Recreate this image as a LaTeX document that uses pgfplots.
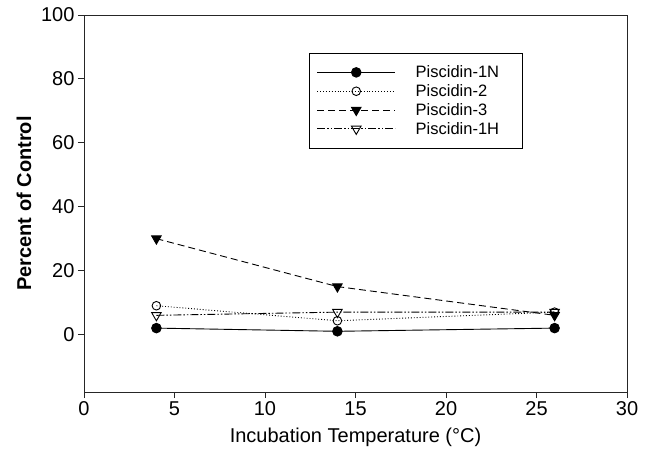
\documentclass[border=0pt]{standalone}
\usepackage{pgfplots}
\pgfplotsset{compat=1.18}
\usepackage{fontspec}
\setmainfont{Liberation Sans}

\begin{document}
\begin{tikzpicture}
\begin{axis}[
  scale only axis, width=543pt, height=377pt,
  xmin=0, xmax=30, ymin=-18, ymax=100,
  xtick={0,5,...,30}, ytick={0,20,...,100},
  tick align=outside, tick pos=left, major tick length=6pt,
  axis line style={black!85, line width=0.9pt},
  tick style={black!85, line width=0.9pt},
  /pgf/number format/assume math mode=true,
  tick label style={font=\fontsize{20}{22}\selectfont},
  xlabel={Incubation Temperature (°C)},
  ylabel={\bfseries Percent of Control},
  label style={font=\fontsize{20}{22}\selectfont},
  xlabel style={yshift=-5pt},
  ylabel style={yshift=3pt},
  legend style={at={(axis cs:12.45,88.2)}, anchor=north west,
    font=\fontsize{16.5}{17}\selectfont, draw=black, line width=0.9pt,
    row sep=1.4pt, inner xsep=7pt, inner ysep=10.5pt},
  legend cell align=left,
  legend image code/.code={
    \draw[#1] (0pt,0pt) -- (78pt,0pt);
    \draw[#1, solid] plot coordinates {(39pt,0pt)};
    \path (96pt,0pt);},
]
\addplot[black, line width=0.9pt, mark=*, mark size=4.8pt,
  mark options={solid, fill=black}]
  coordinates {(4,2)(14,1)(26,2)};
\addlegendentry{Piscidin-1N\rule{14pt}{0pt}}
\addplot[black, line width=0.9pt, dotted, mark=o, mark size=4.3pt,
  mark options={solid, fill=white}]
  coordinates {(4,9)(14,4.3)(26,7)};
\addlegendentry{Piscidin-2}
\addplot[black, line width=0.9pt, dash pattern=on 7pt off 4pt,
  mark=triangle*, mark size=5.5pt,
  mark options={solid, fill=black, rotate=180}]
  coordinates {(4,30)(14,15)(26,6)};
\addlegendentry{Piscidin-3}
\addplot[black, line width=0.9pt,
  dash pattern=on 8pt off 2pt on 1.5pt off 2pt on 1.5pt off 2pt,
  mark=triangle, mark size=5.5pt,
  mark options={solid, fill=white, rotate=180}]
  coordinates {(4,6)(14,7)(26,7)};
\addlegendentry{Piscidin-1H\rule{14pt}{0pt}}
\end{axis}
\useasboundingbox ([xshift=-84pt,yshift=-67pt]current axis.south west)
  rectangle ([xshift=25pt,yshift=15pt]current axis.north east);
\end{tikzpicture}
\end{document}
